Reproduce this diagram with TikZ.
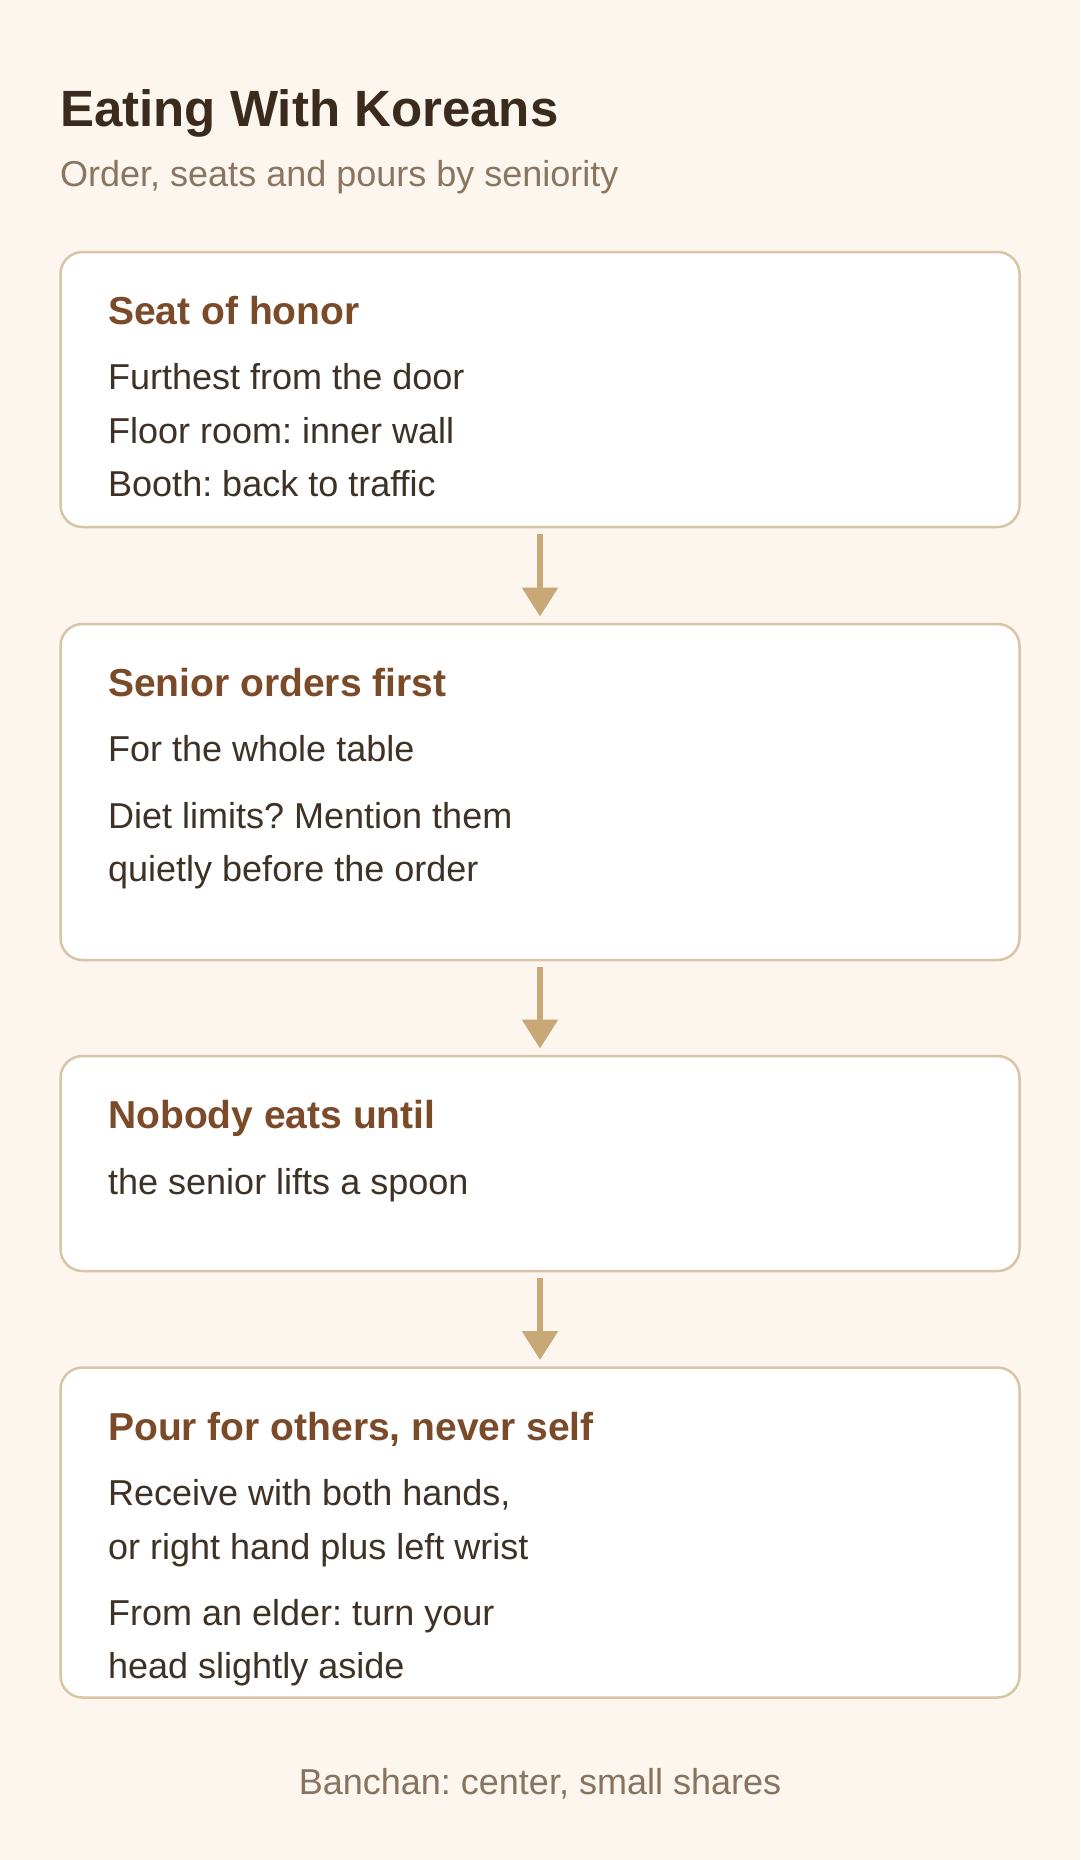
\documentclass[tikz,border=0pt]{standalone}
\usepackage{fontspec}
\setmainfont{Liberation Sans}
\usetikzlibrary{arrows.meta}
\definecolor{bg}{HTML}{FCF6EF}
\definecolor{titlec}{HTML}{3B2B1E}
\definecolor{subc}{HTML}{8A7660}
\definecolor{headc}{HTML}{7B4A29}
\definecolor{bodyc}{HTML}{3E3125}
\definecolor{footc}{HTML}{86745F}
\definecolor{borderc}{HTML}{D9C5A6}
\definecolor{arrowc}{HTML}{C9A877}
\frenchspacing
\begin{document}
\begin{tikzpicture}[x=1pt,y=-1pt,
  card/.style={draw=borderc, line width=2.5pt, fill=white, rounded corners=22pt,
    minimum width=959pt, anchor=north west, inner sep=0pt, outer sep=0pt},
  ttl/.style={anchor=base west, inner sep=0pt, text=titlec, font=\fontsize{51}{60}\selectfont\bfseries},
  subttl/.style={anchor=base west, inner sep=0pt, text=subc, font=\fontsize{36}{44}\selectfont},
  head/.style={anchor=base west, inner sep=0pt, text=headc, font=\fontsize{39}{46}\selectfont\bfseries},
  body/.style={anchor=base west, inner sep=0pt, text=bodyc, font=\fontsize{36}{44}\selectfont},
  foot/.style={anchor=base, inner sep=0pt, text=footc, font=\fontsize{36}{44}\selectfont},
  flow/.style={draw=arrowc, line width=6pt, -{Triangle[length=29pt,width=35pt]}}
]
\fill[bg] (0,0) rectangle (1080,1860);
\useasboundingbox (0,0) rectangle (1080,1860);

\node[ttl] (title) at (60,126.5) {Eating With Koreans};
\node[subttl] (subtitle) at (60,186) {Order, seats and pours by seniority};

\node[card, minimum height=275pt] (c1) at (60.5,252) {};
\node[card, minimum height=336pt] (c2) at (60.5,624) {};
\node[card, minimum height=215pt] (c3) at (60.5,1056) {};
\node[card, minimum height=330pt] (c4) at (60.5,1367.5) {};

\node[head] (h1) at (108,324) {Seat of honor};
\node[body] (b11) at (108,389.3) {Furthest from the door};
\node[body] (b12) at (108,443.3) {Floor room: inner wall};
\node[body] (b13) at (108,496.7) {Booth: back to traffic};

\node[head] (h2) at (108,696) {Senior orders first};
\node[body] (b21) at (108,761.7) {For the whole table};
\node[body] (b22) at (108,828) {Diet limits? Mention them};
\node[body] (b23) at (108,881.7) {quietly before the order};

\node[head] (h3) at (108,1128.3) {Nobody eats until};
\node[body] (b31) at (108,1194) {the senior lifts a spoon};

\node[head] (h4) at (108,1440) {Pour for others, never self};
\node[body] (b41) at (108,1505) {Receive with both hands,};
\node[body] (b42) at (108,1559.3) {or right hand plus left wrist};
\node[body] (b43) at (108,1625) {From an elder: turn your};
\node[body] (b44) at (108,1678.3) {head slightly aside};

\node[foot] (footer) at (540,1794) {Banchan: center, small shares};

\draw[flow] ([yshift=-7pt]c1.south) -- ([yshift=7.5pt]c2.north);
\draw[flow] ([yshift=-7pt]c2.south) -- ([yshift=7.5pt]c3.north);
\draw[flow] ([yshift=-7pt]c3.south) -- ([yshift=7.5pt]c4.north);
\end{tikzpicture}
\end{document}
